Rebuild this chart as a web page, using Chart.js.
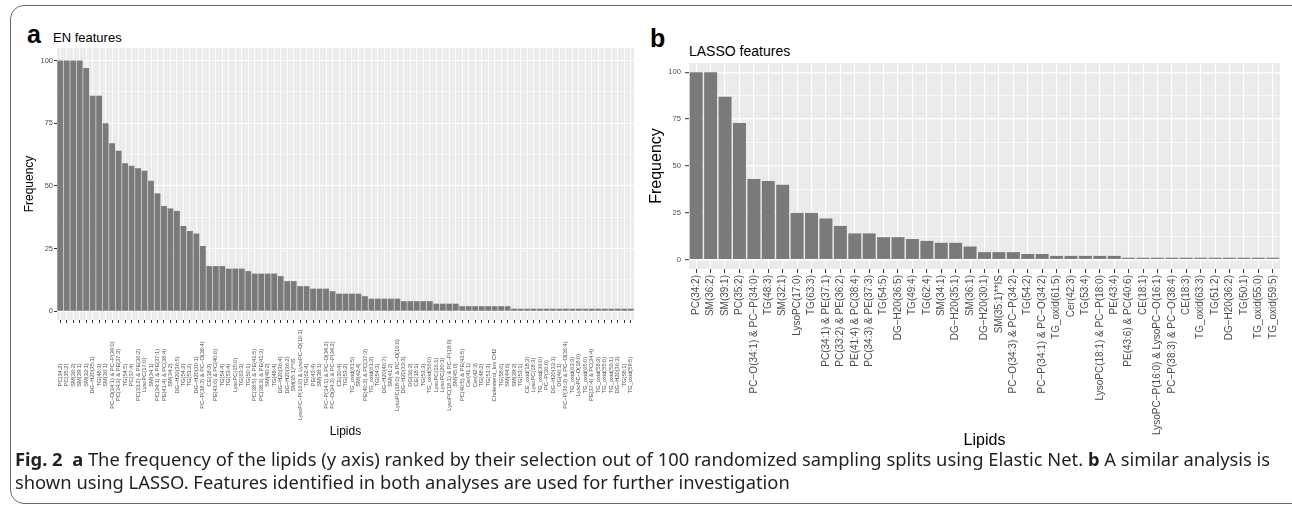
<!DOCTYPE html>
<html>
<head>
<meta charset="utf-8">
<script src="https://cdn.jsdelivr.net/npm/chart.js@4"></script>
<style>
  body { margin: 0; background: #fff; width: 1292px; height: 508px; overflow: hidden; position: relative; }
  #frame { position: absolute; left: 10px; top: 5px; width: 1320px; height: 499px; border: 1.5px solid #6a6a6a; border-radius: 14px; box-sizing: border-box; }
  canvas { position: absolute; }
  .tag { position: absolute; font: bold 25px "Liberation Sans", Arial, sans-serif; color: #000; line-height: 1; }
  .ptitle { position: absolute; font-family: "Liberation Sans", Arial, sans-serif; color: #000; line-height: 1; }
  #caption { position: absolute; left: 15px; top: 447px; font: 18.35px "Noto Sans", sans-serif; color: #231f20; line-height: 23px; white-space: nowrap; }
  #caption b { font-weight: bold; }
</style>
</head>
<body>
<div id="frame"></div>
<div class="tag" style="left:27px; top:22px;">a</div>
<div class="ptitle" style="left:53px; top:31px; font-size:13px;">EN features</div>
<div class="tag" style="left:650px; top:26px;">b</div>
<div class="ptitle" style="left:689px; top:44px; font-size:14px;">LASSO features</div>
<canvas id="enChart" width="645" height="425" style="left:0px; top:20px;"></canvas>
<canvas id="lassoChart" width="652" height="445" style="left:640px; top:20px;"></canvas>
<div id="caption"><b>Fig. 2</b>&nbsp; <b>a</b> The frequency of the lipids (y axis) ranked by their selection out of 100 randomized sampling splits using Elastic Net. <b>b</b> A similar analysis is<br>shown using LASSO. Features identified in both analyses are used for further investigation</div>

<script>
const enLipids = [
  "PC(34:2)", "PC(35:2)", "SM(36:2)", "SM(39:1)", "SM(32:1)", "DG\u2212H20(35:1)", "TG(48:3)", "SM(36:1)",
  "PC\u2212O(34:1) & PC\u2212P(34:0)", "PC(34:3) & PE(37:3)", "TG(54:5)", "PC(37:4)", "PC(33:2) & PE(36:2)",
  "LysoPC(17:0)", "SM(34:1)", "PC(34:1) & PE(37:1)", "PE(41:4) & PC(38:4)", "SM(34:2)", "DG\u2212H20(36:5)",
  "TG(54:2)", "TG(51:2)", "DG\u2212H20(30:1)", "PC\u2212P(38:3) & PC\u2212O(38:4)", "CE(18:3)",
  "PE(43:6) & PC(40:6)", "TG(54:4)", "TG(53:4)", "LysoPC(15:0)", "TG(63:3)", "TG(50:1)",
  "PC(38:5) & PE(41:5)", "PC(38:3) & PE(41:3)", "SM(40:2)", "TG(49:4)", "DG\u2212H20(36:4)", "DG\u2212H20(36:2)",
  "SM(35:1)**IS", "LysoPC\u2212P(16:0) & LysoPC\u2212O(16:1)", "TG(62:4)", "PE(43:4)", "SM(38:1)",
  "PC\u2212P(34:1) & PC\u2212O(34:2)", "PC\u2212O(34:3) & PC\u2212P(34:2)", "CE(20:4)", "TG(53:2)", "TG_oxid(61:5)",
  "SM(42:4)", "PE(40:3) & PC(37:3)", "TG_oxid(61:3)", "TG(54:3)", "DG\u2212H20(46:7)", "SM(41:2)",
  "LysoPC(18:0) & PC\u2212O(16:0)", "DG\u2212H20(33:3)", "DG(36:2)", "CE(18:1)", "TG(53:3)", "TG_oxid(56:0)",
  "LysoPC(16:1)", "LysoPC(20:3)", "LysoPC(18:1) & PC\u2212P(18:0)", "SM(45:0)", "PC(40:5) & PE(43:5)",
  "Cer(41:1)", "Cer(42:3)", "TG(48:2)", "TG(51:3)", "Cholesterol_Ion CH2", "TG(58:6)", "SM(44:6)",
  "SM(39:2)", "TG(53:1)", "CE_oxid(18:3)", "LysoPC(18:3)", "TG_oxid(36:0)", "PC\u2212P(36:0)",
  "DG\u2212H20(33:1)", "DG(46:1)", "PC\u2212P(36:3) & PC\u2212O(36:4)", "TG_oxid(63:3)", "LysoPC\u2212O(18:0)",
  "TG_oxid(65:0)", "PE(37:4) & PC(34:4)", "TG_oxid(58:3)", "TG_oxid(55:0)", "TG_oxid(56:1)",
  "DG\u2212H20(36:3)", "TG(58:1)", "TG_oxid(59:5)"
];
const enFreq = [
  100, 100, 100, 100, 97, 86, 86, 75, 67, 64,
  59, 58, 57, 56, 52, 47, 42, 41, 40, 34,
  32, 31, 26, 18, 18, 18, 17, 17, 17, 16,
  15, 15, 15, 15, 14, 12, 12, 10, 10, 9,
  9, 9, 8, 7, 7, 7, 7, 6, 5, 5,
  5, 5, 5, 4, 4, 4, 4, 4, 3, 3,
  3, 3, 2, 2, 2, 2, 2, 2, 2, 2,
  1, 1, 1, 1, 1, 1, 1, 1, 1, 1,
  1, 1, 1, 1, 1, 1, 1, 1, 1
];

const lassoLipids = [
  "PC(34:2)", "SM(36:2)", "SM(39:1)", "PC(35:2)", "PC\u2212O(34:1) & PC\u2212P(34:0)", "TG(48:3)", "SM(32:1)",
  "LysoPC(17:0)", "TG(63:3)", "PC(34:1) & PE(37:1)", "PC(33:2) & PE(36:2)", "PE(41:4) & PC(38:4)",
  "PC(34:3) & PE(37:3)", "TG(54:5)", "DG\u2212H20(36:5)", "TG(49:4)", "TG(62:4)", "SM(34:1)",
  "DG\u2212H20(35:1)", "SM(36:1)", "DG\u2212H20(30:1)", "SM(35:1)**IS", "PC\u2212O(34:3) & PC\u2212P(34:2)",
  "TG(54:2)", "PC\u2212P(34:1) & PC\u2212O(34:2)", "TG_oxid(61:5)", "Cer(42:3)", "TG(53:4)",
  "LysoPC(18:1) & PC\u2212P(18:0)", "PE(43:4)", "PE(43:6) & PC(40:6)", "CE(18:1)",
  "LysoPC\u2212P(16:0) & LysoPC\u2212O(16:1)", "PC\u2212P(38:3) & PC\u2212O(38:4)", "CE(18:3)", "TG_oxid(63:3)",
  "TG(51:2)", "DG\u2212H20(36:2)", "TG(50:1)", "TG_oxid(55:0)", "TG_oxid(59:5)"
];
const lassoFreq = [
  100, 100, 87, 73, 43, 42, 40, 25, 25, 22,
  18, 14, 14, 12, 12, 11, 10, 9, 9, 7,
  4, 4, 4, 3, 3, 2, 2, 2, 2, 2,
  1, 1, 1, 1, 1, 1, 1, 1, 1, 1, 1
];

const yMajor = [0, 25, 50, 75, 100];
const yMinor = [12.5, 37.5, 62.5, 87.5];

const panelBg = {
  id: "panelBg",
  beforeDraw(chart) {
    const { ctx, chartArea: a } = chart;
    ctx.save();
    ctx.fillStyle = "#ebebeb";
    ctx.fillRect(a.left, a.top, a.width, a.height);
    ctx.restore();
  }
};

// panel a has its lipid names centred on a line under the axis, not hung from it
const centredLabels = {
  id: "centredLabels",
  afterDraw(chart, args, opts) {
    if (!opts.centreY) return;
    const scale = chart.scales.x;
    const ctx = chart.ctx;
    ctx.save();
    ctx.font = opts.size + 'px "Liberation Sans"';
    ctx.fillStyle = "#4d4d4d";
    ctx.textAlign = "center";
    ctx.textBaseline = "middle";
    chart.data.labels.forEach((lab, i) => {
      ctx.save();
      ctx.translate(scale.getPixelForTick(i), opts.centreY);
      ctx.rotate(-Math.PI / 2);
      ctx.fillText(lab, 0, 0);
      ctx.restore();
    });
    ctx.restore();
  }
};

function drawPanel(id, labels, values, s) {
  const isMajor = v => yMajor.includes(v);
  return new Chart(document.getElementById(id), {
    type: "bar",
    data: {
      labels: labels,
      datasets: [{
        data: values,
        backgroundColor: "#7a7a7a",
        categoryPercentage: 1,
        barPercentage: 0.9
      }]
    },
    plugins: [panelBg, centredLabels],
    options: {
      responsive: false,
      animation: false,
      devicePixelRatio: 1,
      layout: { padding: s.pad },
      plugins: {
        legend: { display: false },
        tooltip: { enabled: false },
        centredLabels: { centreY: s.labelCentre, size: s.xFont }
      },
      scales: {
        x: {
          offset: true,
          grid: { offset: false, color: "#ffffff", lineWidth: s.minorW * 1.6, tickLength: s.tick, tickColor: "#333333", tickWidth: 1 },
          border: { display: false },
          ticks: {
            display: !s.labelCentre,
            autoSkip: false, minRotation: 90, maxRotation: 90, padding: 2,
            color: "#4d4d4d", font: { family: "Liberation Sans", size: s.xFont }
          },
          title: {
            display: true, text: "Lipids", color: "#000",
            font: { family: "Liberation Sans", size: s.titleFont },
            padding: { top: 0, bottom: s.xTitlePad }
          },
          afterFit: scale => { scale.height = s.xHeight; }
        },
        y: {
          min: s.yMin, max: 105,
          afterBuildTicks: scale => {
            scale.ticks = [...yMajor, ...yMinor].sort((a, b) => a - b).map(v => ({ value: v }));
          },
          grid: {
            color: "#ffffff",
            lineWidth: ctx => isMajor(ctx.tick.value) ? s.minorW * 2 : s.minorW,
            tickLength: s.tick,
            tickWidth: 1,
            tickColor: ctx => isMajor(ctx.tick.value) ? "#333333" : "rgba(0,0,0,0)"
          },
          border: { display: false },
          ticks: {
            padding: s.yPad, color: "#4d4d4d",
            font: { family: "Liberation Sans", size: s.yFont },
            callback: v => isMajor(v) ? String(v) : ""
          },
          title: {
            display: true, text: "Frequency", color: "#000",
            font: { family: "Liberation Sans", size: s.titleFont },
            padding: { top: s.yTitlePad, bottom: 0 }
          },
          afterFit: scale => { scale.width = s.yWidth; }
        }
      }
    }
  });
}

drawPanel("enChart", enLipids, enFreq, {
  pad: { left: 0, top: 28, right: 11, bottom: 0 },
  xFont: 5.7, yFont: 7.5, titleFont: 12, yMin: -3.5, tick: 3, yPad: 1,
  xHeight: 125, yWidth: 57, xTitlePad: 6, yTitlePad: 22.8, minorW: 0.5,
  labelCentre: 355
});

drawPanel("lassoChart", lassoLipids, lassoFreq, {
  pad: { left: 0, top: 43, right: 12, bottom: 0 },
  xFont: 10, yFont: 7.6, titleFont: 16, yMin: -5, tick: 4, yPad: 4,
  xHeight: 196, yWidth: 49, xTitlePad: 14.4, yTitlePad: 7.4, minorW: 0.7,
  labelCentre: 0
});
</script>
</body>
</html>
